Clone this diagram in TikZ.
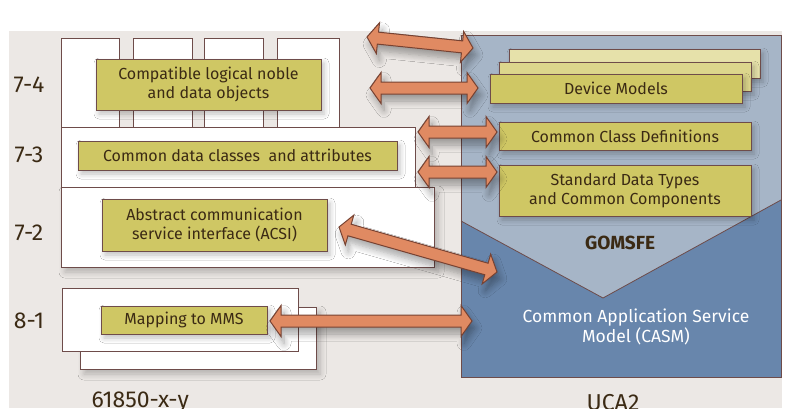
\documentclass[tikz,border=0pt]{standalone}
\usepackage{fontspec}
\setmainfont{Fira Sans}
\usetikzlibrary{calc,shadows.blur}

\definecolor{bggrey}{HTML}{ECE8E5}
\definecolor{edgebrown}{HTML}{6E4C4A}
\definecolor{olive}{HTML}{CFC764}
\definecolor{oliveback}{HTML}{E6E1AA}
\definecolor{olivemid}{HTML}{DCD68C}
\definecolor{inkbrown}{HTML}{3B2A14}
\definecolor{bluetop}{HTML}{A6B5C7}
\definecolor{bluebot}{HTML}{6886AC}
\definecolor{arrowfill}{HTML}{E08A62}
\definecolor{arrowedge}{HTML}{774232}

\tikzset{
  panel/.style={draw=edgebrown, fill=white, line width=0.9pt},
  panelshadow/.style={panel, blur shadow={shadow xshift=4pt, shadow yshift=-5pt,
      shadow blur steps=6, shadow blur radius=6pt, shadow opacity=25}},
  olivebox/.style={draw=edgebrown, fill=olive, line width=1pt, inner sep=0pt,
      text=inkbrown, align=center, font=\fontsize{16}{19}\selectfont,
      blur shadow={shadow xshift=3pt, shadow yshift=-4pt, shadow blur steps=5,
      shadow blur radius=5pt, shadow opacity=25}},
  layerlabel/.style={text=inkbrown, font=\fontsize{23}{26}\selectfont},
  fatarrow/.style={draw=arrowedge, fill=arrowfill, line width=1pt, line join=miter,
      blur shadow={shadow xshift=3pt, shadow yshift=-7pt, shadow blur steps=8,
      shadow blur radius=7pt, shadow opacity=35}},
}

% double-headed broad arrow between two named points
\newcommand\fatarrow[2]{%
  \path[fatarrow] (#1)
    -- ($(#1)!11pt!(#2)!15.5pt!90:(#2)$)
    -- ($(#1)!11pt!(#2)!6pt!90:(#2)$)
    -- ($(#2)!11pt!(#1)!6pt!-90:(#1)$)
    -- ($(#2)!11pt!(#1)!15.5pt!-90:(#1)$)
    -- (#2)
    -- ($(#2)!11pt!(#1)!15.5pt!90:(#1)$)
    -- ($(#2)!11pt!(#1)!6pt!90:(#1)$)
    -- ($(#1)!11pt!(#2)!6pt!-90:(#2)$)
    -- ($(#1)!11pt!(#2)!15.5pt!-90:(#2)$)
    -- cycle;}

\begin{document}
\begin{tikzpicture}[x=1pt,y=-1pt]
\useasboundingbox (0,0) rectangle (787,408);
\fill[white] (0,0) rectangle (787,408);
\fill[bggrey] (9,31) rectangle (782,408);

% ---- 61850 layers ----
\foreach \xa/\xb in {61/119,133/192,204/263,277/339}
  \path[panel] (\xa,38) rectangle (\xb,127);
\path[panelshadow] (61,187) rectangle (434,267);
\path[panel] (61,127) rectangle (415,187);
\path[panelshadow] (80,307) rectangle (316,369);
\path[panel] (62,288) rectangle (298,351);

\node[olivebox, minimum width=225pt, minimum height=51pt] (compat) at (208.5,84.5)
  {Compatible logical noble\\and data objects};
\node[olivebox, minimum width=319pt, minimum height=29pt] (cdc) at (237.5,155.5)
  {Common data classes\ \ and attributes};
\node[olivebox, minimum width=225pt, minimum height=52pt] (acsi) at (214.5,225)
  {Abstract communication\\service interface (ACSI)};
\node[olivebox, minimum width=166pt, minimum height=28pt] (mms) at (184,320)
  {Mapping to MMS};

\node[layerlabel] (l74) at (29,85) {7-4};
\node[layerlabel] (l73) at (29,155) {7-3};
\node[layerlabel] (l72) at (29,233) {7-2};
\node[layerlabel] (l81) at (29,321) {8-1};
\node[layerlabel, anchor=base west] (std) at (88,407) {61850-x-y};

% ---- UCA2 block ----
\fill[bluetop] (461,35) rectangle (781,377);
\fill[bluebot] (461,221) -- (603,298) -- (781,200) -- (781,377) -- (461,377) -- cycle;
\draw[edgebrown, line width=0.8pt] (461,221) -- (603,298) -- (781,200);
\draw[edgebrown, line width=1pt] (461,35) rectangle (781,377);

\node[olivebox, fill=oliveback, minimum width=251pt, minimum height=29pt] (devA) at (634.5,63.5) {};
\node[olivebox, fill=olivemid, minimum width=252pt, minimum height=29pt] (devB) at (625,76.5) {};
\node[olivebox, minimum width=252pt, minimum height=29pt] (dev) at (616,88.5) {Device Models};
\node[olivebox, minimum width=252pt, minimum height=28pt] (ccd) at (625,136) {Common Class Definitions};
\node[olivebox, minimum width=252pt, minimum height=51pt] (sdt) at (625,190.5)
  {Standard Data Types\\and Common Components};

\node[text=inkbrown, font=\fontsize{19}{22}\selectfont\bfseries] (gomsfe) at (620,243) {GOMSFE};
\node[text=white, align=center, font=\fontsize{17.5}{20}\selectfont] (casm) at (636,327)
  {Common Application Service\\Model (CASM)};
\node[layerlabel, anchor=base] (uca) at (613,410) {UCA2};

% ---- arrows ----
\coordinate (a1l) at (367,37);  \coordinate (a1r) at (473,48);
\coordinate (a2l) at (370,88);  \coordinate (a2r) at (478,88);
\coordinate (a3l) at (418,132); \coordinate (a3r) at (497,132);
\coordinate (a4l) at (418,172); \coordinate (a4r) at (497,172);
\coordinate (a5l) at (339,227); \coordinate (a5r) at (497,272);
\coordinate (a6l) at (270,321); \coordinate (a6r) at (472,321);
\fatarrow{a1l}{a1r}
\fatarrow{a2l}{a2r}
\fatarrow{a3l}{a3r}
\fatarrow{a4l}{a4r}
\fatarrow{a5l}{a5r}
\fatarrow{a6l}{a6r}
\end{tikzpicture}
\end{document}
